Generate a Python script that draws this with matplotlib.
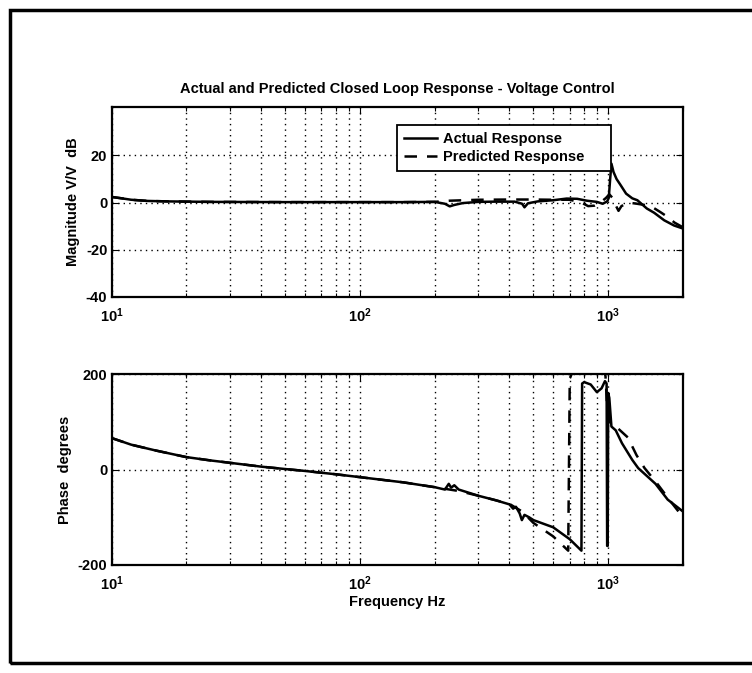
import numpy as np
import matplotlib
matplotlib.use("Agg")
import matplotlib.pyplot as plt
from matplotlib.patches import Rectangle

plt.rcParams['font.family'] = ['Liberation Sans', 'DejaVu Sans']
plt.rcParams['font.weight'] = 'bold'
plt.rcParams['axes.labelweight'] = 'bold'
plt.rcParams['axes.titleweight'] = 'bold'
plt.rcParams['axes.unicode_minus'] = False
plt.rcParams['mathtext.fontset'] = 'custom'
plt.rcParams['mathtext.rm'] = 'Liberation Sans:bold'
plt.rcParams['mathtext.it'] = 'Liberation Sans:italic:bold'
plt.rcParams['mathtext.bf'] = 'Liberation Sans:bold'

# magnitude, actual (Hz, dB)
mag_act_f = [10, 11, 12, 14, 17, 25, 50, 100, 150, 200, 220, 230, 240, 260, 300,
             350, 420, 450, 460, 475, 520, 600, 680, 750, 820, 900, 950, 990,
             1005, 1018, 1030, 1050, 1080, 1120, 1180, 1250, 1310, 1430, 1530,
             1680, 1840, 2000]
mag_act = [2.4, 1.8, 1.2, 0.7, 0.5, 0.3, 0.2, 0.2, 0.2, 0.3, -0.5, -1.6, -1.0,
           -0.2, 0.3, 0.4, 0.4, -0.5, -2.0, -0.3, 0.5, 1.0, 1.7, 1.6, 0.8, 0.3,
           -0.5, 0.5, 2.0, 10.0, 16.5, 13.0, 10.0, 7.5, 3.8, 1.8, 1.0, -2.5,
           -4.3, -7.5, -9.7, -11.0]

# magnitude, predicted
mag_pre_f = [10, 11, 12, 14, 17, 25, 50, 100, 150, 200, 230, 300, 400, 500, 600,
             700, 780, 830, 880, 930, 980, 1010, 1040, 1070, 1100, 1130, 1200,
             1290, 1400, 1510, 1620, 1730, 1850, 2000]
mag_pre = [2.4, 1.8, 1.2, 0.7, 0.5, 0.3, 0.2, 0.2, 0.2, 0.3, 0.8, 1.2, 1.3, 1.3,
           1.2, 1.2, 0.0, -1.5, -1.3, 0.0, 2.0, 3.5, 2.0, -1.0, -3.5, -1.5, 0.0,
           -0.4, -1.0, -2.0, -4.0, -6.0, -8.5, -10.5]

# phase, actual (Hz, degrees)
ph_act_f = [10, 12, 15, 20, 25, 30, 40, 50, 60, 80, 100, 150, 200, 220, 228, 233,
            240, 250, 300, 350, 400, 414, 425, 440, 449, 460, 480, 500, 600, 700,
            780, 785, 800, 850, 900, 940, 970, 985, 990, 995, 1000, 1010, 1030,
            1072, 1136, 1250, 1320, 1550, 1735, 2000]
ph_act = [66, 52, 40, 26, 19, 14, 6, 1, -3, -10, -16, -27, -37, -42, -30, -38,
          -33, -42, -55, -64, -73, -82, -78, -92, -106, -95, -100, -106, -121,
          -146, -170, 180, 183, 178, 162, 170, 185, 180, -160, -160, 160, 150,
          90, 82, 55, 20, 3, -30, -63, -88]

# phase, predicted
ph_pre_f = [10, 12, 15, 20, 25, 30, 40, 50, 60, 80, 100, 150, 200, 250, 300, 350,
            400, 450, 500, 600, 690, 700, 730, 900, 960, 975, 990, 1010, 1040,
            1100, 1200, 1300, 1400, 1550, 1790, 2000]
ph_pre = [66, 52, 40, 26, 19, 14, 6, 1, -3, -10, -16, -27, -37, -45, -55, -64,
          -72, -88, -112, -140, -170, 190, 215, 230, 215, 195, 130, 100, 95, 85,
          67, 30, 3, -25, -68, -100]

fig = plt.figure(figsize=(7.52, 6.73), dpi=100)
W, H = 752.0, 673.0

ax1 = fig.add_axes([111.5 / W, (H - 297) / H, 571.5 / W, 190 / H])
ax2 = fig.add_axes([111.5 / W, (H - 565) / H, 571.5 / W, 191 / H])

fs = 10.5
dash = (0, (5, 4))
grid_kw = dict(color='black', linestyle=(0, (1, 3)), linewidth=1.0)

ax1.semilogx(mag_act_f, mag_act, color='black', lw=1.8, label='Actual Response')
ax1.semilogx(mag_pre_f, mag_pre, color='black', lw=1.8, linestyle=dash,
             label='Predicted Response')
ax1.set_ylim(-40, 40.5)
ax1.set_yticks([-40, -20, 0, 20])
ax1.set_ylabel('Magnitude V/V  dB', fontsize=fs)
ax1.yaxis.set_label_coords(-0.055, 0.5)
ax1.set_title('Actual and Predicted Closed Loop Response - Voltage Control',
              fontsize=fs, pad=10)

ax2.semilogx(ph_act_f, ph_act, color='black', lw=1.8)
ax2.semilogx(ph_pre_f, ph_pre, color='black', lw=1.8, linestyle=dash)
ax2.set_ylim(-200, 200)
ax2.set_yticks([-200, 0, 200])
ax2.set_ylabel('Phase  degrees', fontsize=fs)
ax2.yaxis.set_label_coords(-0.069, 0.5)
ax2.set_xlabel('Frequency Hz', fontsize=fs, labelpad=1)

for ax in (ax1, ax2):
    ax.set_xlim(10, 2000)
    ax.grid(True, which='both', axis='x', **grid_kw)
    ax.grid(True, which='major', axis='y', **grid_kw)
    ax.tick_params(which='both', direction='in', top=True, right=True,
                   labelsize=fs, width=0.8)
    ax.tick_params(which='major', length=5)
    ax.tick_params(which='minor', length=3)
    ax.tick_params(axis='x', which='major', pad=7)
    ax.tick_params(axis='y', which='major', pad=3)
    for s in ax.spines.values():
        s.set_linewidth(1.6)

leg = ax1.legend(loc='upper left', bbox_to_anchor=(0.50, 0.653, 0.374, 0.252),
                 mode='expand', fontsize=fs, frameon=True, fancybox=False,
                 edgecolor='black', framealpha=1, handlelength=2.3,
                 handletextpad=0.4, borderaxespad=0, borderpad=0.45,
                 labelspacing=0.3)
leg.get_frame().set_linewidth(1.3)

# outer border of the scanned page
fig.add_artist(Rectangle((10 / W, (H - 663) / H), 760 / W, 653 / H,
                         transform=fig.transFigure, fill=False,
                         edgecolor='black', linewidth=2.5))

fig.savefig('out.png', dpi=100)
